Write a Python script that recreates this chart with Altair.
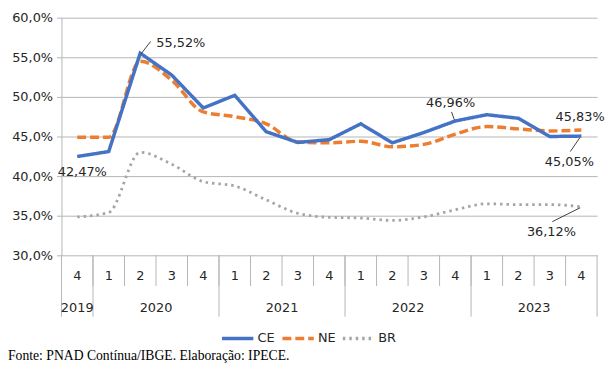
import altair as alt
import pandas as pd

quarters = ["4", "1", "2", "3", "4", "1", "2", "3", "4", "1", "2", "3", "4", "1", "2", "3", "4"]
years = ["2019"] + ["2020"] * 4 + ["2021"] * 4 + ["2022"] * 4 + ["2023"] * 4
ce = [42.47, 43.1, 55.52, 52.75, 48.6, 50.2, 45.6, 44.25, 44.6, 46.6, 44.2, 45.5, 46.96, 47.75, 47.3, 45.0, 45.05]
ne = [44.9, 44.9, 54.5, 52.1, 48.1, 47.5, 46.6, 44.3, 44.2, 44.4, 43.7, 44.0, 45.3, 46.25, 45.96, 45.7, 45.83]
br = [34.84, 35.4, 43.0, 41.5, 39.3, 38.75, 37.0, 35.3, 34.8, 34.7, 34.4, 34.85, 35.75, 36.5, 36.4, 36.4, 36.12]
series_names = ["CE", "NE", "BR"]
series_colors = ["#4472C4", "#ED7D31", "#A5A5A5"]

# annotations: label text, anchor index/value, text position, leader end
ann_text = ["55,52%", "42,47%", "46,96%", "45,83%", "45,05%", "36,12%"]
ann_x = [2.51, 0.16, 11.85, 15.96, 15.62, 15.05]
ann_y = [56.75, 40.5, 49.25, 47.5, 41.75, 32.9]
ann_align = ["left", "center", "center", "center", "center", "center"]
lead_x1 = [2.02, 11.97, 15.96, 15.96]
lead_y1 = [55.4, 47.1, 44.9, 36.0]
lead_x2 = [2.33, 11.88, 15.65, 15.08]
lead_y2 = [57.0, 48.1, 43.1, 34.25]

footer = "Fonte: PNAD Contínua/IBGE. Elaboração: IPECE."

FONT = "DejaVu Sans"
GRID = "#b5b5b5"
W, H = 541, 240

idx = list(range(len(quarters)))
rows = []
for name, vals in zip(series_names, [ce, ne, br]):
    for i, v in zip(idx, vals):
        rows.append({"idx": i, "serie": name, "value": v})
df = pd.DataFrame(rows)

qdf = pd.DataFrame({"idx": idx, "q": quarters, "year": years})
ydf = qdf.groupby("year", as_index=False)["idx"].mean()
qsep = pd.DataFrame({"pos": [i + 0.5 for i in idx[:-1]]})
bounds = [-0.5] + [i + 0.5 for i in idx[:-1] if years[i] != years[i + 1]] + [idx[-1] + 0.5]
ysep = pd.DataFrame({"pos": bounds})
adf = pd.DataFrame({"t": ann_text, "tx": ann_x, "ty": ann_y, "al": ann_align})
ldf = pd.DataFrame({"ax": lead_x1, "ay": lead_y1, "bx": lead_x2, "by": lead_y2})

xs = alt.Scale(domain=[-0.5, len(idx) - 0.5], nice=False, zero=False)
ys = alt.Scale(domain=[30, 60], nice=False, zero=False)

yaxis = alt.Axis(
    values=[30, 35, 40, 45, 50, 55, 60], title=None, grid=True, gridColor=GRID,
    domainColor=GRID, tickColor=GRID, tickSize=5, labelPadding=4,
    labelFont=FONT, labelFontSize=13, labelColor="#262626",
    labelExpr="replace(format(datum.value, '.1f'), '.', ',') + '%'")

leg = alt.Legend(title=None, orient="none", legendX=160, legendY=306,
                 direction="horizontal", symbolType="stroke",
                 symbolSize=1000, symbolStrokeWidth=3.5,
                 labelFont=FONT, labelFontSize=13, labelColor="#262626",
                 columnPadding=0, labelOffset=2, padding=0)
color = alt.Color("serie:N", scale=alt.Scale(domain=series_names, range=series_colors), legend=leg)
dash = alt.StrokeDash("serie:N", scale=alt.Scale(domain=series_names, range=[[1, 0], [9, 4], [2.5, 4]]),
                      legend=leg)

base = alt.Chart(df).encode(
    x=alt.X("idx:Q", scale=xs, axis=None),
    y=alt.Y("value:Q", scale=ys, axis=yaxis),
    color=color, strokeDash=dash,
)
lines = [
    base.transform_filter(alt.datum.serie == "BR").mark_line(interpolate="monotone", strokeWidth=2.8),
    base.transform_filter(alt.datum.serie == "NE").mark_line(interpolate="monotone", strokeWidth=3.5),
    base.transform_filter(alt.datum.serie == "CE").mark_line(interpolate="linear", strokeWidth=3.5),
]

qsep_rules = alt.Chart(qsep).mark_rule(color=GRID, strokeWidth=1).encode(
    x=alt.X("pos:Q", scale=xs, axis=None), y=alt.value(H), y2=alt.value(H + 31))
ysep_rules = alt.Chart(ysep).mark_rule(color=GRID, strokeWidth=1).encode(
    x=alt.X("pos:Q", scale=xs, axis=None), y=alt.value(H), y2=alt.value(H + 62))
qlabels = alt.Chart(qdf).mark_text(font=FONT, fontSize=13, color="#262626", baseline="middle").encode(
    x=alt.X("idx:Q", scale=xs, axis=None), y=alt.value(H + 21), text="q:N")
ylabels = alt.Chart(ydf).mark_text(font=FONT, fontSize=13, color="#262626", baseline="middle").encode(
    x=alt.X("idx:Q", scale=xs, axis=None), y=alt.value(H + 53), text="year:N")

leaders = alt.Chart(ldf).mark_rule(color="#404040", strokeWidth=1).encode(
    x=alt.X("ax:Q", scale=xs, axis=None), y=alt.Y("ay:Q", scale=ys, axis=yaxis),
    x2="bx:Q", y2="by:Q")
ann_left = alt.Chart(adf).transform_filter(alt.datum.al == "left").mark_text(
    font=FONT, fontSize=13, color="#262626", align="left", baseline="middle").encode(
    x=alt.X("tx:Q", scale=xs, axis=None), y=alt.Y("ty:Q", scale=ys, axis=yaxis), text="t:N")
ann_center = alt.Chart(adf).transform_filter(alt.datum.al == "center").mark_text(
    font=FONT, fontSize=13, color="#262626", align="center", baseline="middle").encode(
    x=alt.X("tx:Q", scale=xs, axis=None), y=alt.Y("ty:Q", scale=ys, axis=yaxis), text="t:N")

foot = alt.Chart(pd.DataFrame({"t": [footer]})).mark_text(
    font="Liberation Serif", fontSize=13.8, color="#000000", align="left", baseline="alphabetic").encode(
    x=alt.value(-54), y=alt.value(346), text="t:N")

chart = alt.layer(
    qsep_rules, ysep_rules, *lines, leaders, ann_left, ann_center, qlabels, ylabels, foot
).properties(
    width=W, height=H,
    autosize=alt.AutoSizeParams(type="none"),
    padding={"left": 54, "top": 8, "right": 11, "bottom": 107},
).configure_view(stroke=None)

chart.save("out.html", embed_options={"renderer": "svg", "actions": False})
